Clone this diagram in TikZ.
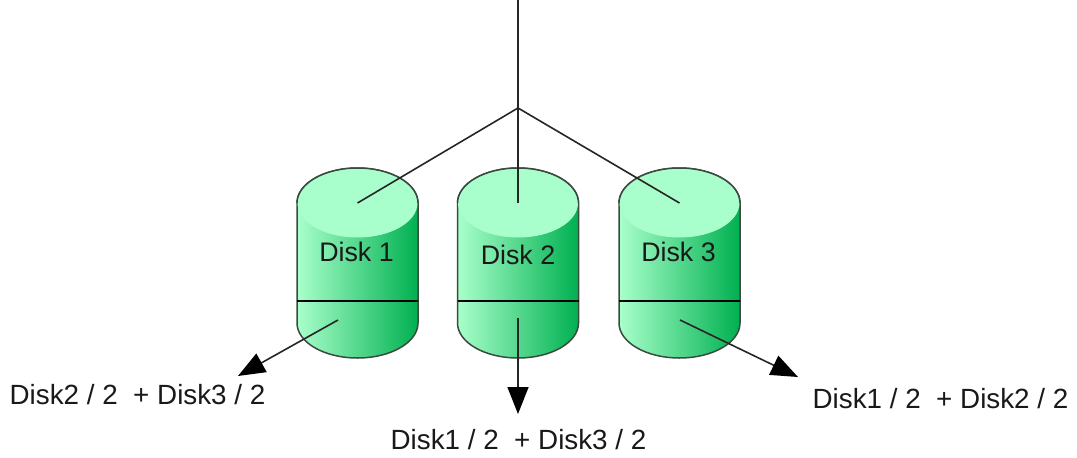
\documentclass[tikz,border=0pt]{standalone}
\usepackage{fontspec}
\setmainfont{Liberation Sans}
\usetikzlibrary{arrows.meta}
\definecolor{disklight}{HTML}{A9FFCB}
\definecolor{diskdark}{HTML}{00B050}
\definecolor{diskline}{HTML}{3A4A40}
\tikzset{
  x=1pt,y=-1pt,
  wire/.style={draw=black!85,line width=1.6pt},
  arrowwire/.style={wire,-{Triangle[length=27pt,width=21pt,color=black]}},
  disklabel/.style={font=\fontsize{26.8}{30}\selectfont,text=black!90,inner sep=0pt},
  sumlabel/.style={font=\fontsize{27.8}{30}\selectfont,text=black!90,inner sep=0pt},
  diskbody/.style={left color=disklight,right color=diskdark,draw=diskline,line width=1.5pt},
  disktop/.style={fill=disklight,draw=none},
  disk/.pic={
    \path[diskbody] (-60.5,0) -- (-60.5,120)
       arc[start angle=180,end angle=360,x radius=60.5pt,y radius=35pt]
       -- (60.5,0)
       arc[start angle=0,end angle=180,x radius=60.5pt,y radius=35pt] -- cycle;
    \fill[disktop] (0,0) ellipse[x radius=60pt,y radius=34.5pt];
    \draw[diskline,line width=1.5pt] (-60.5,0) arc[start angle=180,end angle=0,x radius=60.5pt,y radius=35pt];
    \draw[black,line width=1.6pt] (-60.5,98) -- (60.5,98);
    \coordinate (-top) at (0,0);
    \coordinate (-low) at (0,115);
  }
}
\begin{document}
\begin{tikzpicture}
\useasboundingbox (0,0) rectangle (1077,458);
\pic (d1) at (357.5,203) {disk};
\pic (d2) at (518,203) {disk};
\pic (d3) at (679.5,203) {disk};
\node[disklabel] (l1) at (356.5,252) {Disk 1};
\node[disklabel] (l2) at (518,255) {Disk 2};
\node[disklabel] (l3) at (678.5,252) {Disk 3};
\node[sumlabel] (s1) at (137.5,395) {Disk2 / 2\ \ + Disk3 / 2};
\node[sumlabel] (s2) at (518.5,440) {Disk1 / 2\ \ + Disk3 / 2};
\node[sumlabel] (s3) at (940.5,399) {Disk1 / 2\ \ + Disk2 / 2};
\coordinate (feed) at (518,0);
\coordinate (hub) at (518,108);
\coordinate (t1) at (238,376);
\coordinate (t2) at (518,414);
\coordinate (t3) at (798,377);
\draw[wire] (feed) -- (d2-top);
\draw[wire] (hub) -- (d1-top);
\draw[wire] (hub) -- (d3-top);
\draw[arrowwire] (338,320) -- (t1);
\draw[arrowwire] (d2-low) -- (t2);
\draw[arrowwire] (680,320) -- (t3);
\end{tikzpicture}
\end{document}
